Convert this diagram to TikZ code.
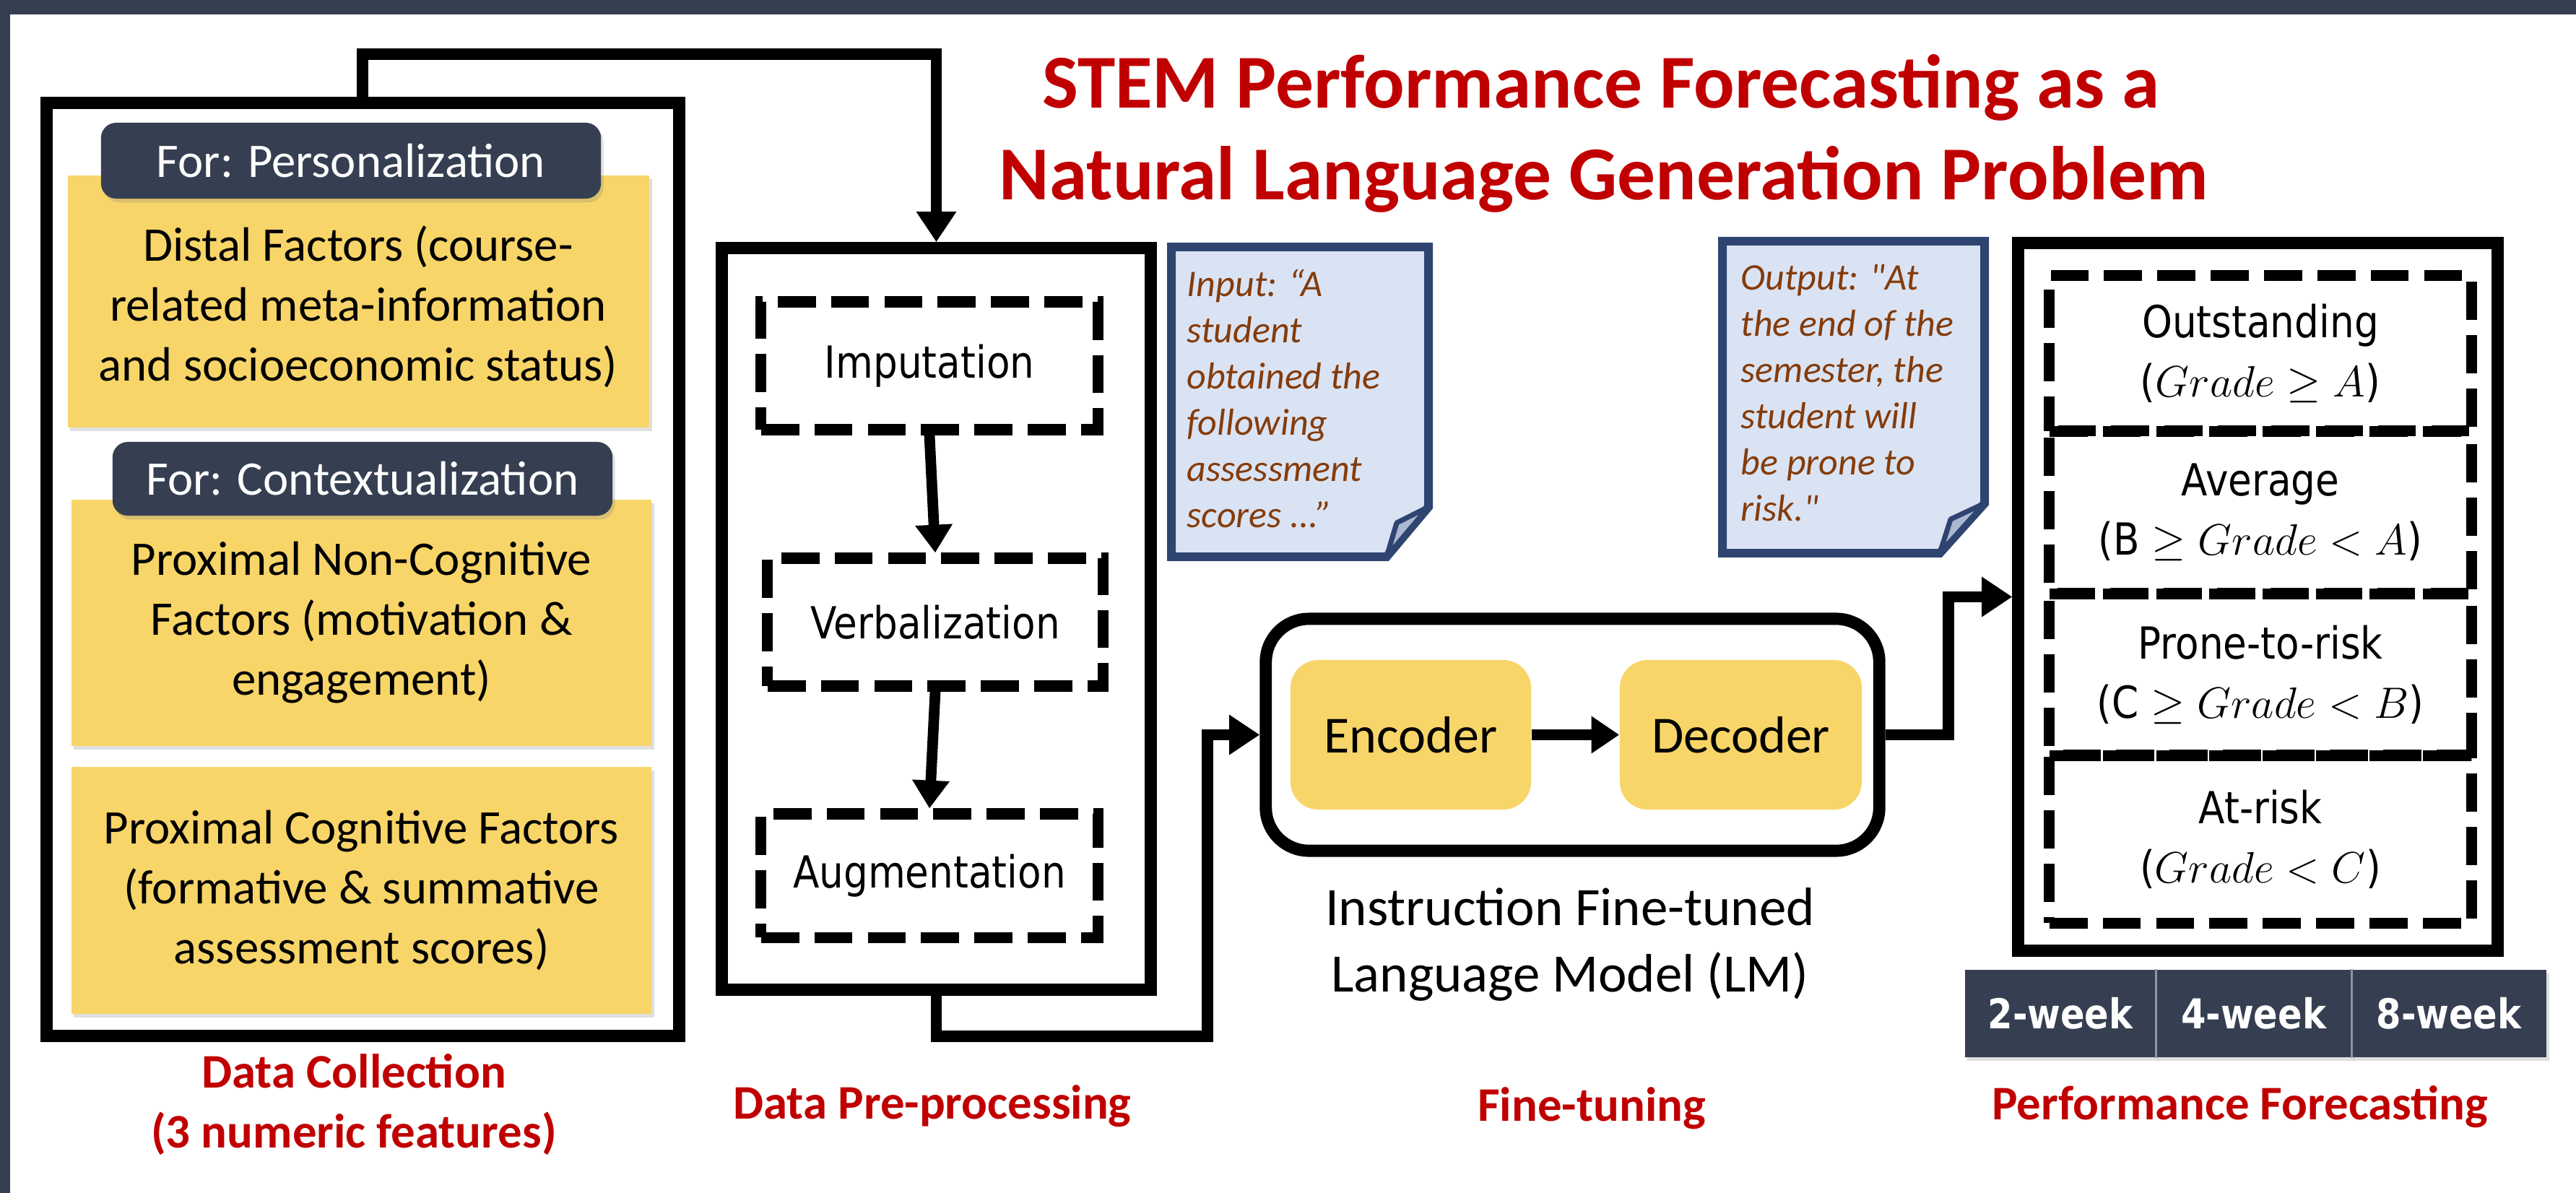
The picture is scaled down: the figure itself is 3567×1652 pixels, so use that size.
\documentclass[tikz,border=0pt]{standalone}
\usepackage{fontspec}
\setmainfont{Carlito}
\newfontfamily\tah[FakeStretch=0.87]{DejaVu Sans}
\newfontfamily\notefont{Carlito}[Ligatures=TeXOff]
\usetikzlibrary{arrows.meta,shadows,calc}
\definecolor{slate}{RGB}{54,63,81}
\definecolor{gold}{RGB}{248,213,104}
\definecolor{tred}{RGB}{192,0,0}
\definecolor{notefill}{RGB}{218,227,243}
\definecolor{noteline}{RGB}{47,68,112}
\definecolor{notetext}{RGB}{132,60,12}
\definecolor{flapcol}{RGB}{170,184,208}
\tikzset{
  box/.style={draw, line width=4.8pt, inner sep=0pt},
  dbox/.style={draw, line width=4.3pt, dash pattern=on 15pt off 6pt, inner sep=0pt},
  shad/.style={drop shadow={shadow xshift=1pt, shadow yshift=-1.5pt, opacity=0.25}},
  yel/.style={fill=gold, inner sep=0pt, shad},
  ytxt/.style={font=\fontsize{19pt}{23.6pt}\selectfont, align=center},
  ttxt/.style={font=\tah\fontsize{17.4pt}{23.3pt}\selectfont, align=center},
  pill/.style={fill=slate, rounded corners=6pt, text=white, inner sep=0pt, shad,
    font=\fontsize{19pt}{23.6pt}\selectfont},
  conn/.style={line width=4.5pt, -{Triangle[length=12pt,width=15pt]}},
  conn2/.style={line width=4.2pt, -{Triangle[length=11pt,width=14pt]}},
  lbl/.style={text=tred, font=\bfseries\fontsize{19pt}{23.6pt}\selectfont, align=center},
  ttl/.style={text=tred, font=\bfseries\fontsize{30pt}{36pt}\selectfont},
  note/.style={fill=notefill, draw=noteline, line width=3.4pt, line join=miter},
  notetxt/.style={text=notetext, font=\notefont\itshape\fontsize{14.8pt}{18.2pt}\selectfont, align=left, inner sep=0pt},
  wk/.style={fill=slate, text=white, inner sep=0pt, minimum height=1.21cm,
    font=\tah\bfseries\fontsize{16.2pt}{19pt}\selectfont},
  ed/.style={fill=gold, rounded corners=11pt, inner sep=0pt, minimum height=2.07cm,
    font=\fontsize{20.5pt}{24pt}\selectfont}
}
\begin{document}
\begin{tikzpicture}[x=0.01cm,y=-0.01cm]
\useasboundingbox (0,0) rectangle (3567,1652);
\fill[white] (0,0) rectangle (3567,1652);
\fill[slate] (0,0) rectangle (3567,20);
\fill[slate] (0,0) rectangle (14,1652);

% Title
\node[ttl, anchor=base] (t1) at (2217,150) {STEM Performance Forecasting as a};
\node[ttl, anchor=base] (t2) at (2221,277) {Natural Language Generation Problem};

% Data collection
\node[box, minimum width=8.75cm, minimum height=12.91cm] (dc) at (502.5,788.5) {};
\node[yel, minimum width=8.05cm, minimum height=3.49cm] (distal) at (496.5,417.5) {};
\node[pill, minimum width=6.92cm, minimum height=1.05cm] (p1) at (486,222.5) {For: Personalization};
\node[ytxt] (distaltxt) at (496,425) {Distal Factors (course-\\related meta-information\\and socioeconomic status)};
\node[yel, ytxt, minimum width=8.03cm, minimum height=3.41cm] (prox1) at (500.5,862.5) {Proximal Non-Cognitive\\Factors (motivation \&\\engagement)};
\node[pill, minimum width=6.92cm, minimum height=1.02cm] (p2) at (502,663) {For: Contextualization};
\node[yel, ytxt, minimum width=8.03cm, minimum height=3.42cm] (prox2) at (500.5,1233) {Proximal Cognitive Factors\\(formative \& summative\\assessment scores)};
\node[lbl] (dclbl) at (490,1530) {Data Collection\\(3 numeric features)};

% Pre-processing
\node[box, minimum width=5.93cm, minimum height=10.26cm] (pp) at (1296.5,857) {};
\node[dbox, ttxt, minimum width=4.66cm, minimum height=1.77cm] (imp) at (1287,506.5) {Imputation};
\node[dbox, ttxt, minimum width=4.64cm, minimum height=1.77cm] (verb) at (1295,861.5) {Verbalization};
\node[dbox, ttxt, minimum width=4.66cm, minimum height=1.71cm] (aug) at (1287,1212.5) {Augmentation};
\draw[conn2] (imp.south) -- (verb.north);
\draw[conn2] (verb.south) -- (aug.north);
\node[lbl] (pplbl) at (1291,1532) {Data Pre-processing};

% Notes
\draw[note] (1622,342) -- (1978,342) -- (1978,702) -- (1920,771) -- (1622,771) -- cycle;
\filldraw[fill=flapcol, draw=noteline, line width=2pt, line join=round] (1978,702) -- (1934,724) -- (1920,771) -- cycle;
\node[notetxt, anchor=north west] (intxt) at (1643,372) {Input: “A\\student\\obtained the\\following\\assessment\\scores ...”};
\draw[note] (2385,334) -- (2748,334) -- (2748,697) -- (2686,766) -- (2385,766) -- cycle;
\filldraw[fill=flapcol, draw=noteline, line width=2pt, line join=round] (2748,697) -- (2701,719) -- (2686,766) -- cycle;
\node[notetxt, anchor=north west] (outtxt) at (2410,366) {Output: "At\\the end of the\\semester, the\\student will\\be prone to\\risk."};

% Fine-tuning
\node[box, rounded corners=17pt, minimum width=8.49cm, minimum height=3.21cm] (lm) at (2177.5,1017.5) {};
\node[ed, minimum width=3.33cm] (enc) at (1953.5,1017.5) {Encoder};
\node[ed, minimum width=3.35cm] (dec) at (2410.5,1017.5) {Decoder};
\draw[conn2] (enc.east) -- (dec.west);
\node[font=\fontsize{21.3pt}{26.2pt}\selectfont, align=center] (lmtxt) at (2174,1308) {Instruction Fine-tuned\\Language Model (LM)};
\node[lbl] (ftlbl) at (2204,1535) {Fine-tuning};

% Performance forecasting
\node[box, minimum width=6.63cm, minimum height=9.79cm] (perf) at (3126.5,826.5) {};
\node[dbox, ttxt, minimum width=5.84cm, minimum height=2.15cm] (g1) at (3130,489.5) {Outstanding\\($Grade \geq A$)};
\node[dbox, ttxt, minimum width=5.84cm, minimum height=2.25cm] (g2) at (3130,709.5) {Average\\(B $\geq Grade < A$)};
\node[dbox, ttxt, minimum width=5.84cm, minimum height=2.24cm] (g3) at (3130,934) {Prone-to-risk\\(C $\geq Grade < B$)};
\node[dbox, ttxt, minimum width=5.84cm, minimum height=2.32cm] (g4) at (3130,1162) {At-risk\\($Grade < C$)};
\node[wk, minimum width=2.64cm, shad] (w2) at (2853,1403.5) {2-week};
\node[wk, minimum width=2.71cm, shad] (w4) at (3120.5,1403.5) {4-week};
\node[wk, minimum width=2.70cm, shad] (w8) at (3391,1403.5) {8-week};
\draw[slate!55!white, line width=0.8pt] (w2.north east) -- (w2.south east);
\draw[slate!55!white, line width=0.8pt] (w4.north east) -- (w4.south east);
\node[lbl] (pflbl) at (3102,1533) {Performance Forecasting};

% Connectors
\coordinate (c1) at (502,75);
\draw[conn] (dc.north -| c1) -- (c1) -| (pp.north);
\coordinate (c2) at (1672,1435);
\draw[conn] (pp.south) |- (c2) |- (lm.west);
\coordinate (c3) at (2698,826.5);
\draw[conn] (lm.east) -| (c3) -- (perf.west);
\end{tikzpicture}
\end{document}
